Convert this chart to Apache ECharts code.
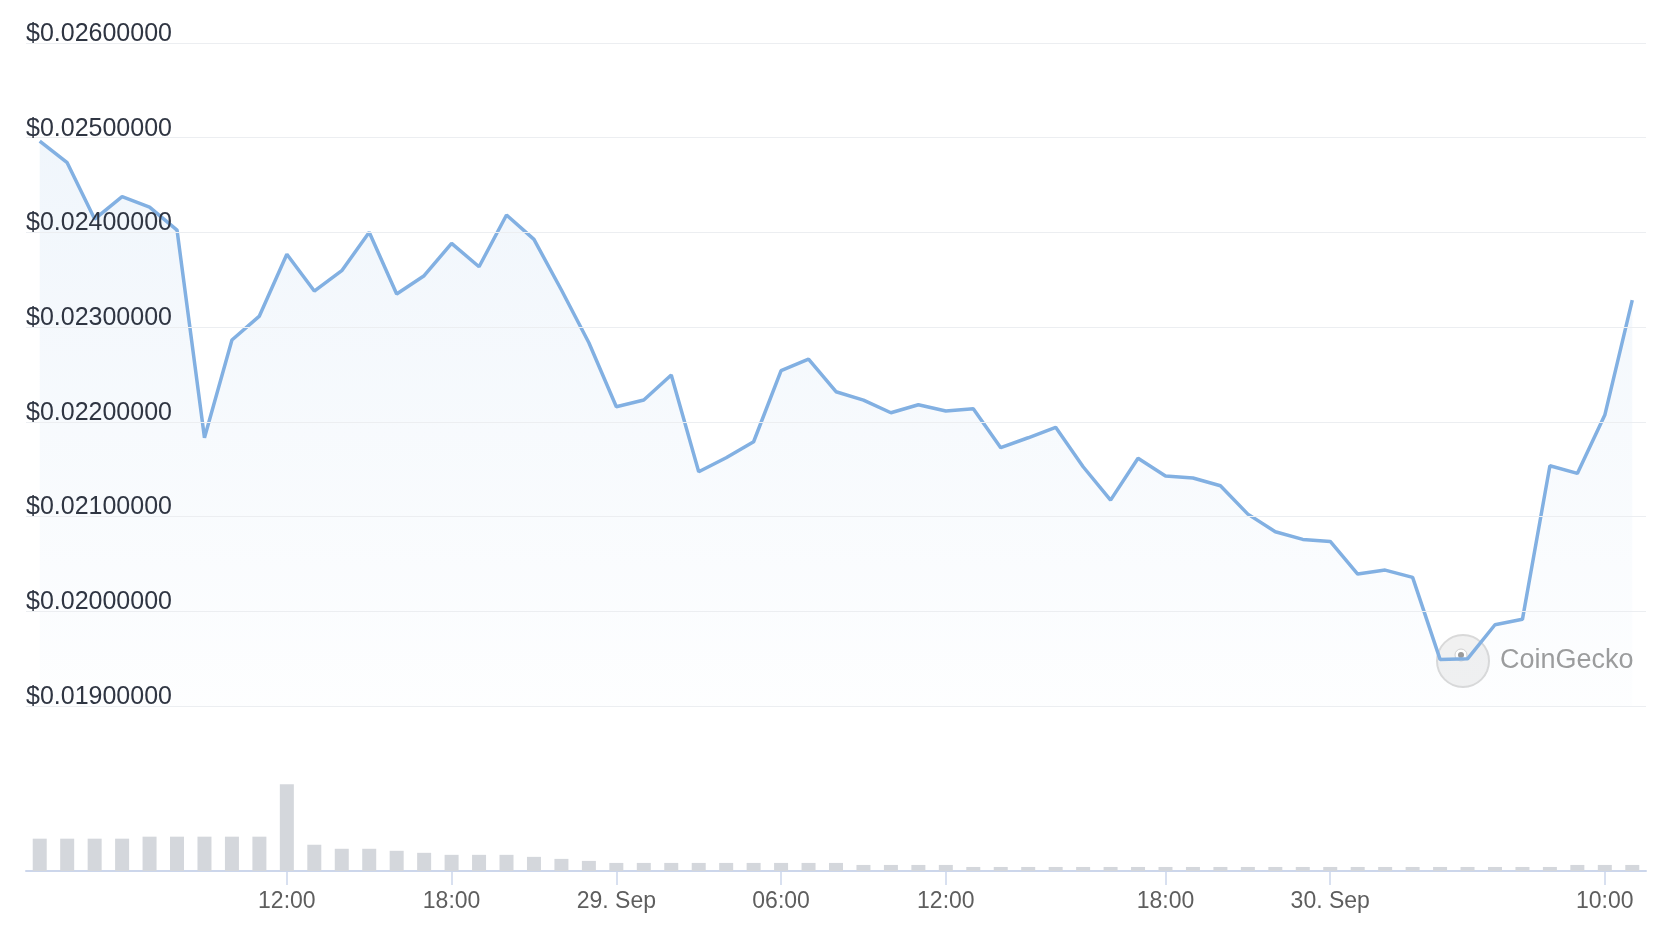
<!DOCTYPE html>
<html>
<head>
<meta charset="utf-8">
<script src="https://cdn.jsdelivr.net/npm/echarts@6/dist/echarts.min.js"></script>
<style>
html,body{margin:0;padding:0;background:#fff;}
#chart{width:1656px;height:932px;}
</style>
</head>
<body>
<div id="chart"></div>
<script>
var categories = [
  "28 Sep 03:00","28 Sep 04:00","28 Sep 05:00","28 Sep 06:00","28 Sep 07:00","28 Sep 08:00","28 Sep 09:00","28 Sep 10:00","28 Sep 11:00","28 Sep 12:00",
  "28 Sep 13:00","28 Sep 14:00","28 Sep 15:00","28 Sep 16:00","28 Sep 17:00","28 Sep 18:00","28 Sep 19:00","28 Sep 20:00","28 Sep 21:00","28 Sep 22:00",
  "28 Sep 23:00","29 Sep 00:00","29 Sep 01:00","29 Sep 02:00","29 Sep 03:00","29 Sep 04:00","29 Sep 05:00","29 Sep 06:00","29 Sep 07:00","29 Sep 08:00",
  "29 Sep 09:00","29 Sep 10:00","29 Sep 11:00","29 Sep 12:00","29 Sep 12:45","29 Sep 13:30","29 Sep 14:15","29 Sep 15:00","29 Sep 15:45","29 Sep 16:30",
  "29 Sep 17:15","29 Sep 18:00","29 Sep 19:00","29 Sep 20:00","29 Sep 21:00","29 Sep 22:00","29 Sep 23:00","30 Sep 00:00","30 Sep 01:00","30 Sep 02:00",
  "30 Sep 03:00","30 Sep 04:00","30 Sep 05:00","30 Sep 06:00","30 Sep 07:00","30 Sep 08:00","30 Sep 09:00","30 Sep 10:00","30 Sep 11:00"
];
var prices = [
  0.024965,0.024736,0.024141,0.024377,0.024268,0.024025,0.021832,0.022864,0.023117,0.023769,
  0.023381,0.023596,0.024001,0.023350,0.023543,0.023885,0.023638,0.024184,0.023927,0.023392,
  0.022835,0.022160,0.022230,0.022494,0.021473,0.021621,0.021790,0.022540,0.022663,0.022318,
  0.022230,0.022096,0.022181,0.022114,0.022138,0.021727,0.021832,0.021942,0.021526,0.021174,
  0.021615,0.021428,0.021407,0.021325,0.021026,0.020840,0.020759,0.020738,0.020393,0.020435,
  0.020358,0.019492,0.019498,0.019858,0.019915,0.021536,0.021456,0.022072,0.023286
];
var volumes = [
  32,32,32,32,34,34,34,34,34,86,
  26,22,22,20,18,16,16,16,14,12,
  10,8,8,8,8,8,8,8,8,8,
  6,6,6,6,4,4,4,4,4,4,
  4,4,4,4,4,4,4,4,4,4,
  4,4,4,4,4,4,6,6,6
];
var xTickLabels = {
  "28 Sep 12:00":"12:00",
  "28 Sep 18:00":"18:00",
  "29 Sep 00:00":"29. Sep",
  "29 Sep 06:00":"06:00",
  "29 Sep 12:00":"12:00",
  "29 Sep 18:00":"18:00",
  "30 Sep 00:00":"30. Sep",
  "30 Sep 10:00":"10:00"
};
var yMin = 0.019, yMax = 0.026, yStep = 0.001;

var chart = echarts.init(document.getElementById('chart'), null, {renderer:'canvas'});
var FONT = '"Liberation Sans", Arial, Helvetica, sans-serif';
function isTick(idx, val){ return xTickLabels.hasOwnProperty(val); }

chart.setOption({
  animation:false,
  backgroundColor:'#ffffff',
  grid:[
    {left:26, right:10, top:43, bottom:226},
    {left:26, right:10, top:770, bottom:61}
  ],
  xAxis:[
    {type:'category', gridIndex:0, data:categories, boundaryGap:true,
     axisLine:{show:false}, axisTick:{show:false}, axisLabel:{show:false}, splitLine:{show:false}},
    {type:'category', gridIndex:1, data:categories, boundaryGap:true,
     axisLine:{show:true, lineStyle:{color:'#ccd6eb', width:2}},
     axisTick:{show:true, interval:isTick, alignWithLabel:true, length:14, lineStyle:{color:'#ccd6eb', width:1.5}},
     axisLabel:{show:true, interval:isTick, margin:19, fontSize:23, color:'#5e5e5e', fontFamily:FONT,
       formatter:function(v){ return xTickLabels[v] || ''; }},
     splitLine:{show:false}}
  ],
  yAxis:[
    {type:'value', gridIndex:0, min:yMin, max:yMax, interval:yStep, position:'left', z:5,
     axisLine:{show:false}, axisTick:{show:false},
     splitLine:{show:true, lineStyle:{color:'#eceef1', width:1}},
     axisLabel:{inside:true, margin:0, verticalAlign:'bottom', align:'left', fontSize:25, lineHeight:18, color:'#2f3542', fontFamily:FONT,
       showMinLabel:true, showMaxLabel:true,
       formatter:function(v){ return '$' + v.toFixed(8); }}},
    {type:'value', gridIndex:1, min:0, max:100, show:false, splitLine:{show:false}}
  ],
  graphic:[
    {type:'circle', z:1, shape:{cx:1463, cy:661, r:26}, style:{fill:'rgba(238,238,238,0.8)', stroke:'#d9d9d9', lineWidth:2}},
    {type:'circle', z:1, shape:{cx:1461, cy:655, r:6}, style:{fill:'#ffffff', stroke:'#cfcfcf', lineWidth:1}},
    {type:'circle', z:1, shape:{cx:1461, cy:655, r:3}, style:{fill:'#9a9a9a'}},
    {type:'text', z:1, left:1500, top:647, style:{text:'CoinGecko', fontSize:27, fill:'#9c9c9c', fontFamily:FONT, fontWeight:500}}
  ],
  series:[
    {type:'line', xAxisIndex:0, yAxisIndex:0, data:prices, symbol:'none', z:3,
     lineStyle:{color:'#82b0e2', width:3.5},
     areaStyle:{origin:'start', color:new echarts.graphic.LinearGradient(0,0,0,1,[
       {offset:0, color:'rgba(130,177,227,0.17)'},
       {offset:1, color:'rgba(130,177,227,0.02)'}
     ])}},
    {type:'bar', xAxisIndex:1, yAxisIndex:1, data:volumes, barWidth:14, itemStyle:{color:'#d4d7dc'}}
  ]
});
</script>
</body>
</html>
